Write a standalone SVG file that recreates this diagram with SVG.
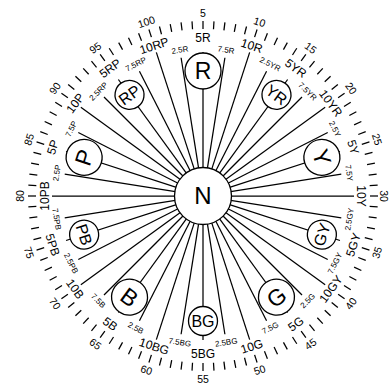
<svg xmlns="http://www.w3.org/2000/svg" xmlns:xlink="http://www.w3.org/1999/xlink" width="390" height="387" viewBox="0 0 390 387">
<style>
.bg{fill:#fff}
.ln{stroke:#000;stroke-width:1.25;fill:none}
.tk{stroke:#000;stroke-width:1.25}
.cir{fill:#fff;stroke:#000;stroke-width:1.3}
text{font-family:"Liberation Sans",Arial,Helvetica,sans-serif;fill:#000;text-anchor:middle}
.num{font-size:10.5px}
.main{font-size:12px}
.sm{font-size:8px}
.h1{font-size:23px}
.h2{font-size:16px}
.n{font-size:24px}
</style>
<defs>
<line id="tick" class="tk" x1="203" y1="21" x2="203" y2="29"/>
<line id="l5" class="ln" x1="203" y1="168" x2="203" y2="52"/>
<line id="l10" class="ln" x1="203" y1="168" x2="203" y2="45"/>
<line id="ls" class="ln" x1="203" y1="168" x2="203" y2="56"/>
</defs>
<rect class="bg" width="390" height="387"/>
<g id="ticks">
<use href="#tick" transform="rotate(0 203 196)"/><use href="#tick" transform="rotate(3.6 203 196)"/><use href="#tick" transform="rotate(7.2 203 196)"/><use href="#tick" transform="rotate(10.8 203 196)"/><use href="#tick" transform="rotate(14.4 203 196)"/><use href="#tick" transform="rotate(18 203 196)"/><use href="#tick" transform="rotate(21.6 203 196)"/><use href="#tick" transform="rotate(25.2 203 196)"/><use href="#tick" transform="rotate(28.8 203 196)"/><use href="#tick" transform="rotate(32.4 203 196)"/>
<use href="#tick" transform="rotate(36 203 196)"/><use href="#tick" transform="rotate(39.6 203 196)"/><use href="#tick" transform="rotate(43.2 203 196)"/><use href="#tick" transform="rotate(46.8 203 196)"/><use href="#tick" transform="rotate(50.4 203 196)"/><use href="#tick" transform="rotate(54 203 196)"/><use href="#tick" transform="rotate(57.6 203 196)"/><use href="#tick" transform="rotate(61.2 203 196)"/><use href="#tick" transform="rotate(64.8 203 196)"/><use href="#tick" transform="rotate(68.4 203 196)"/>
<use href="#tick" transform="rotate(72 203 196)"/><use href="#tick" transform="rotate(75.6 203 196)"/><use href="#tick" transform="rotate(79.2 203 196)"/><use href="#tick" transform="rotate(82.8 203 196)"/><use href="#tick" transform="rotate(86.4 203 196)"/><use href="#tick" transform="rotate(90 203 196)"/><use href="#tick" transform="rotate(93.6 203 196)"/><use href="#tick" transform="rotate(97.2 203 196)"/><use href="#tick" transform="rotate(100.8 203 196)"/><use href="#tick" transform="rotate(104.4 203 196)"/>
<use href="#tick" transform="rotate(108 203 196)"/><use href="#tick" transform="rotate(111.6 203 196)"/><use href="#tick" transform="rotate(115.2 203 196)"/><use href="#tick" transform="rotate(118.8 203 196)"/><use href="#tick" transform="rotate(122.4 203 196)"/><use href="#tick" transform="rotate(126 203 196)"/><use href="#tick" transform="rotate(129.6 203 196)"/><use href="#tick" transform="rotate(133.2 203 196)"/><use href="#tick" transform="rotate(136.8 203 196)"/><use href="#tick" transform="rotate(140.4 203 196)"/>
<use href="#tick" transform="rotate(144 203 196)"/><use href="#tick" transform="rotate(147.6 203 196)"/><use href="#tick" transform="rotate(151.2 203 196)"/><use href="#tick" transform="rotate(154.8 203 196)"/><use href="#tick" transform="rotate(158.4 203 196)"/><use href="#tick" transform="rotate(162 203 196)"/><use href="#tick" transform="rotate(165.6 203 196)"/><use href="#tick" transform="rotate(169.2 203 196)"/><use href="#tick" transform="rotate(172.8 203 196)"/><use href="#tick" transform="rotate(176.4 203 196)"/>
<use href="#tick" transform="rotate(180 203 196)"/><use href="#tick" transform="rotate(183.6 203 196)"/><use href="#tick" transform="rotate(187.2 203 196)"/><use href="#tick" transform="rotate(190.8 203 196)"/><use href="#tick" transform="rotate(194.4 203 196)"/><use href="#tick" transform="rotate(198 203 196)"/><use href="#tick" transform="rotate(201.6 203 196)"/><use href="#tick" transform="rotate(205.2 203 196)"/><use href="#tick" transform="rotate(208.8 203 196)"/><use href="#tick" transform="rotate(212.4 203 196)"/>
<use href="#tick" transform="rotate(216 203 196)"/><use href="#tick" transform="rotate(219.6 203 196)"/><use href="#tick" transform="rotate(223.2 203 196)"/><use href="#tick" transform="rotate(226.8 203 196)"/><use href="#tick" transform="rotate(230.4 203 196)"/><use href="#tick" transform="rotate(234 203 196)"/><use href="#tick" transform="rotate(237.6 203 196)"/><use href="#tick" transform="rotate(241.2 203 196)"/><use href="#tick" transform="rotate(244.8 203 196)"/><use href="#tick" transform="rotate(248.4 203 196)"/>
<use href="#tick" transform="rotate(252 203 196)"/><use href="#tick" transform="rotate(255.6 203 196)"/><use href="#tick" transform="rotate(259.2 203 196)"/><use href="#tick" transform="rotate(262.8 203 196)"/><use href="#tick" transform="rotate(266.4 203 196)"/><use href="#tick" transform="rotate(270 203 196)"/><use href="#tick" transform="rotate(273.6 203 196)"/><use href="#tick" transform="rotate(277.2 203 196)"/><use href="#tick" transform="rotate(280.8 203 196)"/><use href="#tick" transform="rotate(284.4 203 196)"/>
<use href="#tick" transform="rotate(288 203 196)"/><use href="#tick" transform="rotate(291.6 203 196)"/><use href="#tick" transform="rotate(295.2 203 196)"/><use href="#tick" transform="rotate(298.8 203 196)"/><use href="#tick" transform="rotate(302.4 203 196)"/><use href="#tick" transform="rotate(306 203 196)"/><use href="#tick" transform="rotate(309.6 203 196)"/><use href="#tick" transform="rotate(313.2 203 196)"/><use href="#tick" transform="rotate(316.8 203 196)"/><use href="#tick" transform="rotate(320.4 203 196)"/>
<use href="#tick" transform="rotate(324 203 196)"/><use href="#tick" transform="rotate(327.6 203 196)"/><use href="#tick" transform="rotate(331.2 203 196)"/><use href="#tick" transform="rotate(334.8 203 196)"/><use href="#tick" transform="rotate(338.4 203 196)"/><use href="#tick" transform="rotate(342 203 196)"/><use href="#tick" transform="rotate(345.6 203 196)"/><use href="#tick" transform="rotate(349.2 203 196)"/><use href="#tick" transform="rotate(352.8 203 196)"/><use href="#tick" transform="rotate(356.4 203 196)"/>
</g>
<g id="connectors">
<use href="#ls" transform="rotate(-9 203 196)"/><use href="#l5" transform="rotate(0 203 196)"/><use href="#ls" transform="rotate(9 203 196)"/><use href="#l10" transform="rotate(18 203 196)"/>
<use href="#ls" transform="rotate(27 203 196)"/><use href="#l5" transform="rotate(36 203 196)"/><use href="#ls" transform="rotate(45 203 196)"/><use href="#l10" transform="rotate(54 203 196)"/>
<use href="#ls" transform="rotate(63 203 196)"/><use href="#l5" transform="rotate(72 203 196)"/><use href="#ls" transform="rotate(81 203 196)"/><use href="#l10" transform="rotate(90 203 196)"/>
<use href="#ls" transform="rotate(99 203 196)"/><use href="#l5" transform="rotate(108 203 196)"/><use href="#ls" transform="rotate(117 203 196)"/><use href="#l10" transform="rotate(126 203 196)"/>
<use href="#ls" transform="rotate(135 203 196)"/><use href="#l5" transform="rotate(144 203 196)"/><use href="#ls" transform="rotate(153 203 196)"/><use href="#l10" transform="rotate(162 203 196)"/>
<use href="#ls" transform="rotate(171 203 196)"/><use href="#l5" transform="rotate(180 203 196)"/><use href="#ls" transform="rotate(189 203 196)"/><use href="#l10" transform="rotate(198 203 196)"/>
<use href="#ls" transform="rotate(207 203 196)"/><use href="#l5" transform="rotate(216 203 196)"/><use href="#ls" transform="rotate(225 203 196)"/><use href="#l10" transform="rotate(234 203 196)"/>
<use href="#ls" transform="rotate(243 203 196)"/><use href="#l5" transform="rotate(252 203 196)"/><use href="#ls" transform="rotate(261 203 196)"/><use href="#l10" transform="rotate(270 203 196)"/>
<use href="#ls" transform="rotate(279 203 196)"/><use href="#l5" transform="rotate(288 203 196)"/><use href="#ls" transform="rotate(297 203 196)"/><use href="#l10" transform="rotate(306 203 196)"/>
<use href="#ls" transform="rotate(315 203 196)"/><use href="#l5" transform="rotate(324 203 196)"/><use href="#ls" transform="rotate(333 203 196)"/><use href="#l10" transform="rotate(342 203 196)"/>
</g>
<g id="node-N"><circle class="cir" cx="203" cy="196" r="28.5"/><text class="n" x="203" y="196" dy="0.35em">N</text></g>
<g id="node-R" transform="rotate(0 203 196)"><circle class="cir" cx="203" cy="71" r="18"/><text class="h1" x="203" y="71" dy="0.35em">R</text></g>
<g id="node-YR" transform="rotate(36 203 196)"><circle class="cir" cx="203" cy="71" r="14.5"/><text class="h2" x="203" y="71" dy="0.35em">YR</text></g>
<g id="node-Y" transform="rotate(72 203 196)"><circle class="cir" cx="203" cy="71" r="18"/><text class="h1" x="203" y="71" dy="0.35em">Y</text></g>
<g id="node-GY" transform="rotate(-72 203 196)"><circle class="cir" cx="203" cy="321" r="14.5"/><text class="h2" x="203" y="321" dy="0.35em">GY</text></g>
<g id="node-G" transform="rotate(-36 203 196)"><circle class="cir" cx="203" cy="321" r="18"/><text class="h1" x="203" y="321" dy="0.35em">G</text></g>
<g id="node-BG" transform="rotate(0 203 196)"><circle class="cir" cx="203" cy="321" r="14.5"/><text class="h2" x="203" y="321" dy="0.35em">BG</text></g>
<g id="node-B" transform="rotate(36 203 196)"><circle class="cir" cx="203" cy="321" r="18"/><text class="h1" x="203" y="321" dy="0.35em">B</text></g>
<g id="node-PB" transform="rotate(72 203 196)"><circle class="cir" cx="203" cy="321" r="14.5"/><text class="h2" x="203" y="321" dy="0.35em">PB</text></g>
<g id="node-P" transform="rotate(-72 203 196)"><circle class="cir" cx="203" cy="71" r="18"/><text class="h1" x="203" y="71" dy="0.35em">P</text></g>
<g id="node-RP" transform="rotate(-36 203 196)"><circle class="cir" cx="203" cy="71" r="14.5"/><text class="h2" x="203" y="71" dy="0.35em">RP</text></g>
<g id="main-labels" class="main">
<text x="203" y="38" dy="0.35em" transform="rotate(0 203 196)">5R</text>
<text x="203" y="38" dy="0.35em" transform="rotate(18 203 196)">10R</text>
<text x="203" y="38" dy="0.35em" transform="rotate(36 203 196)">5YR</text>
<text x="203" y="38" dy="0.35em" transform="rotate(54 203 196)">10YR</text>
<text x="203" y="38" dy="0.35em" transform="rotate(72 203 196)">5Y</text>
<text x="203" y="38" dy="0.35em" transform="rotate(90 203 196)">10Y</text>
<text x="203" y="354" dy="0.35em" transform="rotate(-72 203 196)">5GY</text>
<text x="203" y="354" dy="0.35em" transform="rotate(-54 203 196)">10GY</text>
<text x="203" y="354" dy="0.35em" transform="rotate(-36 203 196)">5G</text>
<text x="203" y="354" dy="0.35em" transform="rotate(-18 203 196)">10G</text>
<text x="203" y="354" dy="0.35em" transform="rotate(0 203 196)">5BG</text>
<text x="203" y="354" dy="0.35em" transform="rotate(18 203 196)">10BG</text>
<text x="203" y="354" dy="0.35em" transform="rotate(36 203 196)">5B</text>
<text x="203" y="354" dy="0.35em" transform="rotate(54 203 196)">10B</text>
<text x="203" y="354" dy="0.35em" transform="rotate(72 203 196)">5PB</text>
<text x="203" y="38" dy="0.35em" transform="rotate(-90 203 196)">10PB</text>
<text x="203" y="38" dy="0.35em" transform="rotate(-72 203 196)">5P</text>
<text x="203" y="38" dy="0.35em" transform="rotate(-54 203 196)">10P</text>
<text x="203" y="38" dy="0.35em" transform="rotate(-36 203 196)">5RP</text>
<text x="203" y="38" dy="0.35em" transform="rotate(-18 203 196)">10RP</text>
</g>
<g id="small-labels" class="sm">
<text x="203" y="48" dy="0.35em" transform="rotate(-9 203 196)">2.5R</text>
<text x="203" y="48" dy="0.35em" transform="rotate(9 203 196)">7.5R</text>
<text x="203" y="48" dy="0.35em" transform="rotate(27 203 196)">2.5YR</text>
<text x="203" y="48" dy="0.35em" transform="rotate(45 203 196)">7.5YR</text>
<text x="203" y="48" dy="0.35em" transform="rotate(63 203 196)">2.5Y</text>
<text x="203" y="48" dy="0.35em" transform="rotate(81 203 196)">7.5Y</text>
<text x="203" y="344" dy="0.35em" transform="rotate(-81 203 196)">2.5GY</text>
<text x="203" y="344" dy="0.35em" transform="rotate(-63 203 196)">7.5GY</text>
<text x="203" y="344" dy="0.35em" transform="rotate(-45 203 196)">2.5G</text>
<text x="203" y="344" dy="0.35em" transform="rotate(-27 203 196)">7.5G</text>
<text x="203" y="344" dy="0.35em" transform="rotate(-9 203 196)">2.5BG</text>
<text x="203" y="344" dy="0.35em" transform="rotate(9 203 196)">7.5BG</text>
<text x="203" y="344" dy="0.35em" transform="rotate(27 203 196)">2.5B</text>
<text x="203" y="344" dy="0.35em" transform="rotate(45 203 196)">7.5B</text>
<text x="203" y="344" dy="0.35em" transform="rotate(63 203 196)">2.5PB</text>
<text x="203" y="344" dy="0.35em" transform="rotate(81 203 196)">7.5PB</text>
<text x="203" y="48" dy="0.35em" transform="rotate(-81 203 196)">2.5P</text>
<text x="203" y="48" dy="0.35em" transform="rotate(-63 203 196)">7.5P</text>
<text x="203" y="48" dy="0.35em" transform="rotate(-45 203 196)">2.5RP</text>
<text x="203" y="48" dy="0.35em" transform="rotate(-27 203 196)">7.5RP</text>
</g>
<g id="numbers" class="num">
<text x="203" y="13" dy="0.35em" transform="rotate(0 203 196)">5</text>
<text x="203" y="13" dy="0.35em" transform="rotate(18 203 196)">10</text>
<text x="203" y="13" dy="0.35em" transform="rotate(36 203 196)">15</text>
<text x="203" y="13" dy="0.35em" transform="rotate(54 203 196)">20</text>
<text x="203" y="13" dy="0.35em" transform="rotate(72 203 196)">25</text>
<text x="203" y="15" dy="0.35em" transform="rotate(90 203 196)">30</text>
<text x="203" y="379" dy="0.35em" transform="rotate(-72 203 196)">35</text>
<text x="203" y="379" dy="0.35em" transform="rotate(-54 203 196)">40</text>
<text x="203" y="379" dy="0.35em" transform="rotate(-36 203 196)">45</text>
<text x="203" y="379" dy="0.35em" transform="rotate(-18 203 196)">50</text>
<text x="203" y="379" dy="0.35em" transform="rotate(0 203 196)">55</text>
<text x="203" y="379" dy="0.35em" transform="rotate(18 203 196)">60</text>
<text x="203" y="379" dy="0.35em" transform="rotate(36 203 196)">65</text>
<text x="203" y="379" dy="0.35em" transform="rotate(54 203 196)">70</text>
<text x="203" y="379" dy="0.35em" transform="rotate(72 203 196)">75</text>
<text x="203" y="13" dy="0.35em" transform="rotate(-90 203 196)">80</text>
<text x="203" y="13" dy="0.35em" transform="rotate(-72 203 196)">85</text>
<text x="203" y="13" dy="0.35em" transform="rotate(-54 203 196)">90</text>
<text x="203" y="13" dy="0.35em" transform="rotate(-36 203 196)">95</text>
<text x="203" y="13" dy="0.35em" transform="rotate(-18 203 196)">100</text>
</g>
</svg>
